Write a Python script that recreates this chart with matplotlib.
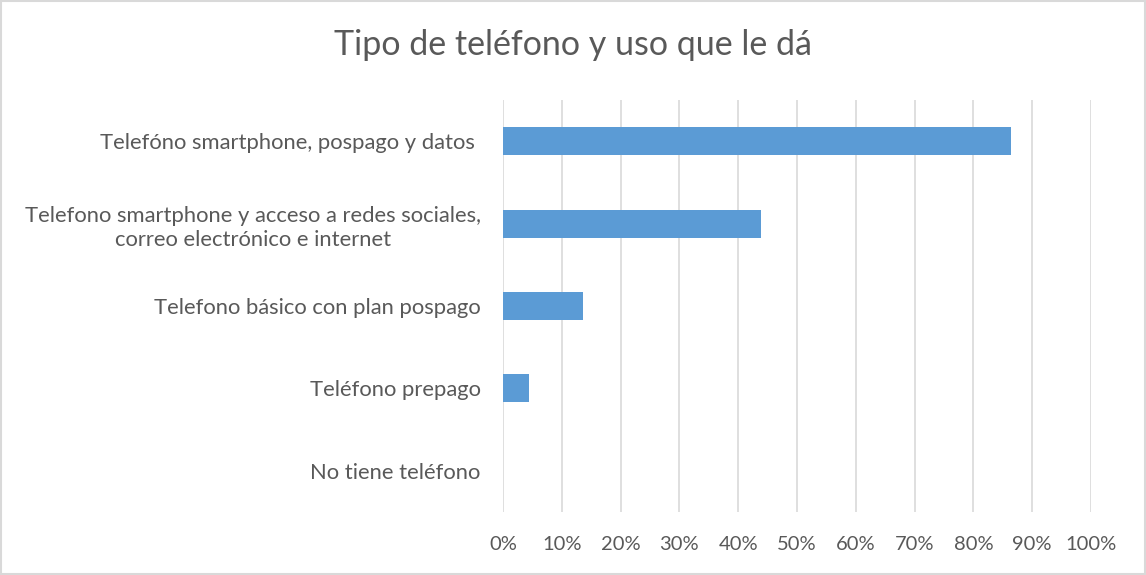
import matplotlib.pyplot as plt
import matplotlib.ticker as mtick


# Données
categories = [
  "Telefóno smartphone, pospago y datos ",
  "Telefono smartphone y acceso a redes sociales,\ncorreo electrónico e internet",
  "Telefono básico con plan pospago",
  "Teléfono prepago",
  "No tiene teléfono",
]
values = [0.864, 0.439, 0.136, 0.045, 0.0]
x_ticks = [i / 10 for i in range(11)]

TITLE = "Tipo de teléfono y uso que le dá"
TEXT_COLOR = "#595959"
BAR_COLOR = "#5b9bd5"
GRID_COLOR = "#d9d9d9"


def main():
  plt.rcParams["font.family"] = ["Lato", "DejaVu Sans"]

  fig = plt.figure(figsize=(11.46, 5.75), dpi=100)
  ax = fig.add_axes([503 / 1146, 1 - 512 / 575, 588 / 1146, 412 / 575])

  positions = list(range(len(categories)))
  ax.barh(positions, values, height=0.34, color=BAR_COLOR, zorder=3)

  ax.set_ylim(len(categories) - 0.5, -0.5)
  ax.set_yticks(positions)
  ax.set_yticklabels(categories, fontsize=15.8, color=TEXT_COLOR, ha="right",
                     multialignment="center", linespacing=1.25)

  ax.set_xlim(0, 1)
  ax.set_xticks(x_ticks)
  ax.xaxis.set_major_formatter(mtick.PercentFormatter(1.0, decimals=0))
  ax.tick_params(axis="x", labelsize=14.5, labelcolor=TEXT_COLOR, length=0, pad=17)
  ax.tick_params(axis="y", length=0, pad=16)

  ax.grid(axis="x", color=GRID_COLOR, linewidth=1.2, zorder=0)
  for spine in ax.spines.values():
    spine.set_visible(False)

  fig.text(0.5, 1 - 45 / 575, TITLE, ha="center", va="center",
           fontsize=24.5, color=TEXT_COLOR)

  # Cadre gris autour du graphique
  border = plt.Rectangle((0.001, 0.002), 0.998, 0.996, transform=fig.transFigure,
                         fill=False, edgecolor=GRID_COLOR, linewidth=1.5)
  fig.patches.append(border)

  fig.savefig("out.png", dpi=100)
  plt.close(fig)


if __name__ == "__main__":
  main()
